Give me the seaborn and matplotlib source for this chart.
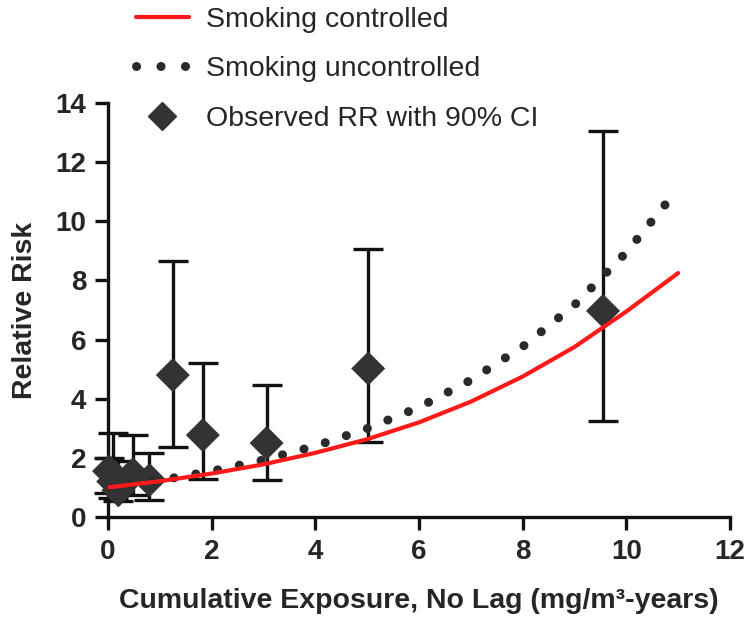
import matplotlib
matplotlib.use("Agg")
import matplotlib.pyplot as plt
from matplotlib.lines import Line2D
import numpy as np
import pandas as pd
import seaborn as sns

# observed relative risks with 90% CI
obs_x = [0.02, 0.10, 0.20, 0.48, 0.80, 1.25, 1.83, 3.06, 5.02, 9.55]
obs_rr = [1.55, 1.20, 0.90, 1.45, 1.25, 4.80, 2.77, 2.50, 5.02, 6.97]
obs_lo = [0.80, 0.65, 0.55, 0.75, 0.57, 2.37, 1.28, 1.25, 2.53, 3.23]
obs_hi = [2.00, 2.85, 1.90, 2.76, 2.15, 8.65, 5.20, 4.46, 9.06, 13.06]

# fitted curves
curve_x = [0, 1, 2, 3, 4, 5, 6, 7, 8, 9, 10, 11]
ctrl_rr = [1.00, 1.21, 1.47, 1.78, 2.17, 2.63, 3.20, 3.90, 4.75, 5.75, 6.95, 8.25]
unctrl_rr = [1.00, 1.24, 1.55, 1.93, 2.40, 2.99, 3.71, 4.63, 5.76, 7.17, 8.95, 11.10]

labels = ["Smoking controlled", "Smoking uncontrolled", "Observed RR with 90% CI"]

sns.set_style("ticks")
plt.rcParams["font.family"] = ["Liberation Sans", "DejaVu Sans"]

fig = plt.figure(figsize=(7.44, 6.29), dpi=100)
ax = fig.add_axes([108 / 744, 1 - 517 / 629, 622 / 744, 414 / 629])

obs = pd.DataFrame({"x": obs_x, "rr": obs_rr})
curves = pd.DataFrame({"x": curve_x, "ctrl": ctrl_rr, "unctrl": unctrl_rr})

yerr = [np.array(obs_rr) - np.array(obs_lo), np.array(obs_hi) - np.array(obs_rr)]
ax.errorbar(obs_x, obs_rr, yerr=yerr, fmt="none", ecolor="#111111",
            elinewidth=2.4, capsize=11, capthick=2.4, zorder=2, clip_on=False)
sns.scatterplot(data=obs, x="x", y="rr", marker="D", s=300, color="#333333",
                edgecolor="none", ax=ax, zorder=3, clip_on=False)

sns.lineplot(data=curves, x="x", y="unctrl", color="#2a2a2a", linewidth=6.5,
             linestyle=(0, (0.01, 2.45)), dash_capstyle="round", ax=ax, zorder=4)
sns.lineplot(data=curves, x="x", y="ctrl", color="#ff1a1a", linewidth=3,
             ax=ax, zorder=5)

ax.set_xlim(0, 12)
ax.set_ylim(0, 14)
ax.set_xticks(range(0, 13, 2))
ax.set_yticks(range(0, 15, 2))
ax.tick_params(length=9.5, width=2.4, labelsize=20, pad=6, color="#111111")
for lab in ax.get_xticklabels() + ax.get_yticklabels():
    lab.set_fontweight("bold")
for side in ["left", "bottom"]:
    ax.spines[side].set_linewidth(2.4)
    ax.spines[side].set_color("#111111")
sns.despine(ax=ax)

ax.set_xlabel("Cumulative Exposure, No Lag (mg/m³-years)", fontsize=20.5,
              fontweight="bold", labelpad=17)
ax.set_ylabel("Relative Risk", fontsize=20.5, fontweight="bold", labelpad=13)

handles = [
    Line2D([], [], color="#ff1a1a", linewidth=3),
    Line2D([], [], color="#2a2a2a", linewidth=6.5, linestyle=(0, (0.01, 2.7)),
           dash_capstyle="round"),
    Line2D([], [], color="#333333", marker="D", markersize=14, linestyle="none"),
]
fig.legend(handles, labels, loc="upper left", bbox_to_anchor=(136 / 744, 0.989),
           frameon=False, fontsize=20.5, handlelength=1.85, handletextpad=0.6,
           labelspacing=0.82, borderpad=0, borderaxespad=0)

fig.savefig("out.png", dpi=100)
